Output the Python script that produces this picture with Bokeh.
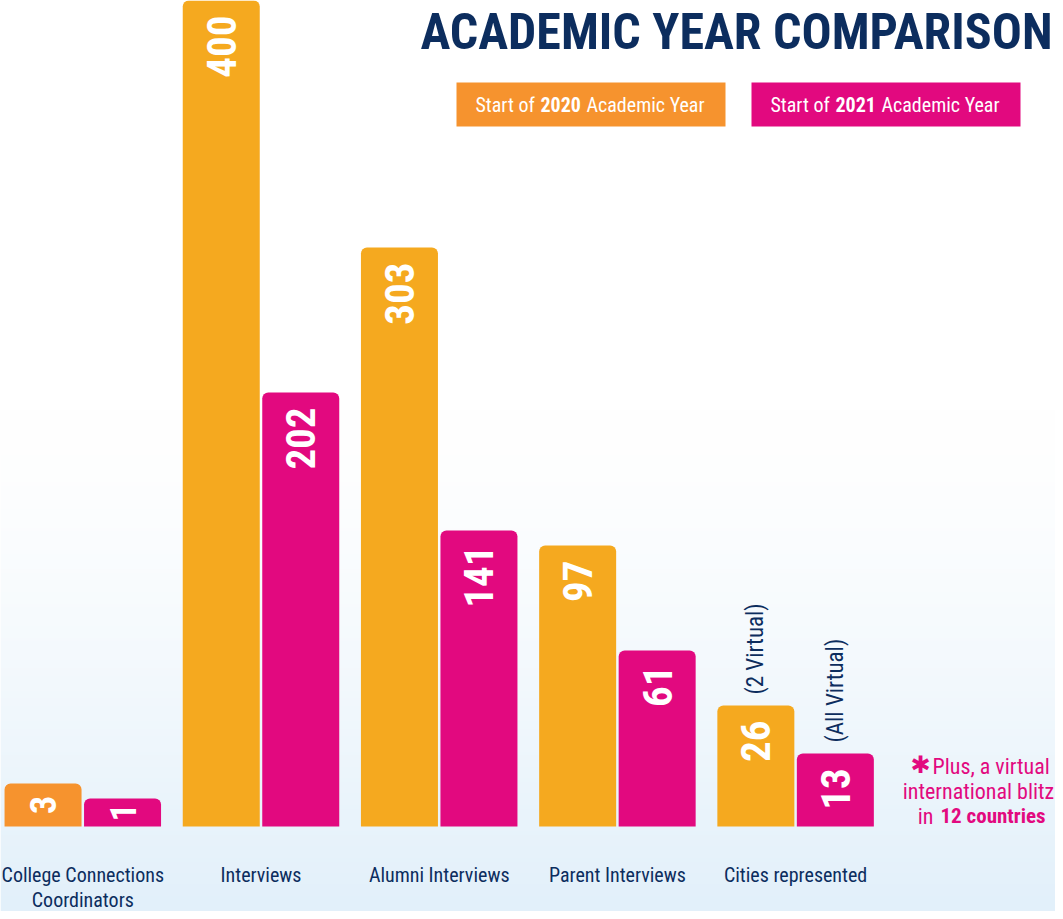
import numpy as np
from bokeh.plotting import figure
from bokeh.models import Range1d, ColumnDataSource
from bokeh.core.properties import value
from bokeh.embed import file_html
from bokeh.resources import INLINE

# ---------------- data ----------------
categories = ["College Connections\nCoordinators", "Interviews", "Alumni Interviews",
              "Parent Interviews", "Cities represented"]
years = ["2020", "2021"]
values_2020 = [3, 400, 303, 97, 26]
values_2021 = [1, 202, 141, 61, 13]
# bar lengths as drawn in the infographic (not to scale)
heights_2020 = [20.8, 400, 280.4, 136.1, 58.6]
heights_2021 = [13.6, 210.2, 143.3, 85.2, 35.4]
notes_2020 = ["", "", "", "", "(2 Virtual)"]
notes_2021 = ["", "", "", "", "(All Virtual)"]
title_text = "ACADEMIC YEAR COMPARISON"
legend_prefix = "Start of"
legend_suffix = "Academic Year"
footnote_lines = ["Plus, a virtual", "international blitz"]
footnote_last = ["in", "12 countries"]

# ---------------- styles / layout ----------------
FONT = value("Roboto Condensed")
NAVY = "#0C2D5E"
MAGENTA = "#E2097F"
GOLD = "#F5A91F"
ORANGE = "#F6932E"
colors_2020 = [ORANGE, GOLD, GOLD, GOLD, GOLD]
colors_2021 = [MAGENTA] * 5

W, H = 1055, 911
Y_MAX = 400.0
PX_PER_UNIT = 826.0 / 400.0
Y_MIN = Y_MAX - H / PX_PER_UNIT
GROUP_PX = 178.2
X_MIN = -82.3 / GROUP_PX
X_MAX = X_MIN + W / GROUP_PX
OFF = 39.75 / GROUP_PX
BAR_W = 77.0 / GROUP_PX

p = figure(width=W, height=H, x_range=Range1d(X_MIN, X_MAX), y_range=Range1d(Y_MIN, Y_MAX),
           x_axis_type=None, y_axis_type=None, toolbar_location=None, output_backend="svg",
           min_border=0, outline_line_color=None,
           background_fill_color="white", border_fill_color="white")
p.extra_x_ranges = {"px": Range1d(0, W)}
p.extra_y_ranges = {"px": Range1d(H, 0)}

# background gradient (white top -> pale blue bottom)
N = 240
rows = np.linspace(0, 1, N)  # 0 = bottom
w = np.clip(1 - rows / 0.55, 0, 1) ** 1.4
top_c = np.array([255, 255, 255])
bot_c = np.array([226, 240, 250])
img = np.empty((N, 2), dtype=np.uint32)
view = img.view(dtype=np.uint8).reshape((N, 2, 4))
for i in range(N):
    c = top_c * (1 - w[i]) + bot_c * w[i]
    view[i, :, 0] = int(c[0]); view[i, :, 1] = int(c[1]); view[i, :, 2] = int(c[2]); view[i, :, 3] = 255
p.image_rgba(image=[img], x=X_MIN, y=Y_MIN, dw=X_MAX - X_MIN, dh=Y_MAX - Y_MIN)

idx = list(range(len(categories)))
x20 = [i - OFF for i in idx]
x21 = [i + OFF for i in idx]

TALL_PX = 60
for xs, hs, vals, cols, notes in [(x20, heights_2020, values_2020, colors_2020, notes_2020),
                                  (x21, heights_2021, values_2021, colors_2021, notes_2021)]:
    src = ColumnDataSource(dict(x=xs, top=hs, color=cols))
    p.vbar(x="x", top="top", bottom=0, width=BAR_W, fill_color="color", line_color=None,
           border_radius=(6, 6, 0, 0), source=src)
    tall = [h * PX_PER_UNIT > TALL_PX for h in hs]
    # tall bars: value label hangs from the top of the bar
    p.text(x=[x for x, t in zip(xs, tall) if t],
           y=[h - 15 / PX_PER_UNIT for h, t in zip(hs, tall) if t],
           text=[str(v) for v, t in zip(vals, tall) if t], angle=np.pi / 2,
           text_align="right", text_baseline="middle", text_color="white",
           text_font=FONT, text_font_style="bold", text_font_size="41px")
    # short bars: value label centred in the bar
    p.text(x=[x for x, t in zip(xs, tall) if not t],
           y=[h / 2 for h, t in zip(hs, tall) if not t],
           text=[str(v) for v, t in zip(vals, tall) if not t], angle=np.pi / 2,
           text_align="center", text_baseline="middle", text_color="white",
           text_font=FONT, text_font_style="bold", text_font_size="36px")
    nx = [x for x, n in zip(xs, notes) if n]
    ny = [h + 11 / PX_PER_UNIT for h, n in zip(hs, notes) if n]
    nt = [n for n in notes if n]
    p.text(x=nx, y=ny, text=nt, angle=np.pi / 2, text_align="left", text_baseline="middle",
           text_color=NAVY, text_font=FONT, text_font_size="23px")

# category labels
line1 = [c.split("\n")[0] for c in categories]
line2 = [c.split("\n")[1] if "\n" in c else "" for c in categories]
p.text(x=idx, y=[874] * len(idx), text=line1, y_range_name="px", text_align="center",
       text_baseline="alphabetic", text_color=NAVY, text_font=FONT, text_font_size="20px")
p.text(x=idx, y=[899] * len(idx), text=line2, y_range_name="px", text_align="center",
       text_baseline="alphabetic", text_color=NAVY, text_font=FONT, text_font_size="20px")

# title
p.text(x=[1052], y=[31], text=[title_text], x_range_name="px", y_range_name="px",
       text_align="right", text_baseline="alphabetic", text_color=NAVY,
       text_font=FONT, text_font_style="bold", text_font_size="50px")

# legend boxes
p.quad(left=[456, 751], right=[725, 1020], top=[82, 82], bottom=[126, 126],
       fill_color=[ORANGE, MAGENTA], line_color=None, x_range_name="px", y_range_name="px")
p.text(x=[475, 770], y=[104, 104], text=[legend_prefix] * 2, x_range_name="px", y_range_name="px",
       text_align="left", text_baseline="alphabetic", text_color="white",
       text_font=FONT, text_font_size="20px")
p.text(x=[540, 835], y=[104, 104], text=years, x_range_name="px", y_range_name="px",
       text_align="left", text_baseline="alphabetic", text_color="white",
       text_font=FONT, text_font_style="bold", text_font_size="20px")
p.text(x=[586, 881], y=[104, 104], text=[legend_suffix] * 2, x_range_name="px",
       y_range_name="px", text_align="left", text_baseline="alphabetic", text_color="white",
       text_font=FONT, text_font_size="20px")

# footnote
p.text(x=[930], y=[764], text=["\u2731"], x_range_name="px", y_range_name="px",
       text_align="right", text_baseline="alphabetic", text_color=MAGENTA,
       text_font=value("DejaVu Sans"), text_font_style="bold", text_font_size="24px")
p.text(x=[932], y=[765.5], text=[footnote_lines[0]], x_range_name="px", y_range_name="px",
       text_align="left", text_baseline="alphabetic", text_color=MAGENTA,
       text_font=FONT, text_font_size="22px")
p.text(x=[978], y=[790.5], text=[footnote_lines[1]], x_range_name="px", y_range_name="px",
       text_align="center", text_baseline="alphabetic", text_color=MAGENTA,
       text_font=FONT, text_font_size="22px")
p.text(x=[933], y=[815.5], text=[footnote_last[0]], x_range_name="px", y_range_name="px",
       text_align="right", text_baseline="alphabetic", text_color=MAGENTA,
       text_font=FONT, text_font_size="22px")
p.text(x=[940], y=[815.5], text=[footnote_last[1]], x_range_name="px", y_range_name="px",
       text_align="left", text_baseline="alphabetic", text_color=MAGENTA,
       text_font=FONT, text_font_style="bold", text_font_size="21px")

open("out.html", "w").write(file_html(p, INLINE))
